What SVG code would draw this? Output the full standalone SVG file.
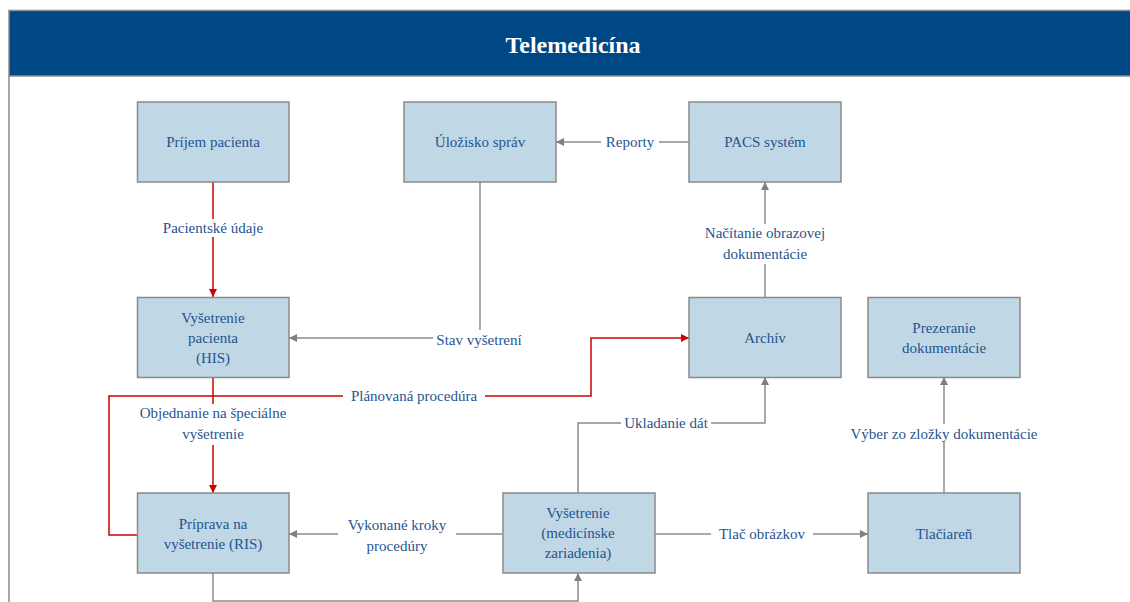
<svg xmlns="http://www.w3.org/2000/svg" width="1130" height="602" viewBox="0 0 1130 602">
  <style>
    .node rect { fill: #c0d7e5; stroke: #8a8a8a; stroke-width: 1.5; }
    .node text, .lbl { font-size: 15px; fill: #1f5591; text-anchor: middle; }
    .gray { fill: none; stroke: #8c8c8c; stroke-width: 1.5; }
    .red { fill: none; stroke: #cc0000; stroke-width: 1.5; }
    .bg { fill: #ffffff; }
  </style>
  <defs>
    <marker id="arrGray" viewBox="0 0 10 10" refX="10" refY="5" markerWidth="8" markerHeight="8" markerUnits="userSpaceOnUse" orient="auto">
      <path d="M0,0 L10,5 L0,10 z" fill="#808080"/>
    </marker>
    <marker id="arrRed" viewBox="0 0 10 10" refX="10" refY="5" markerWidth="8" markerHeight="8" markerUnits="userSpaceOnUse" orient="auto">
      <path d="M0,0 L10,5 L0,10 z" fill="#cc0000"/>
    </marker>
  </defs>

  <rect width="1130" height="602" fill="#ffffff"/>

  <g font-family="'Liberation Serif', 'Times New Roman', serif">
  <!-- frame and header band -->
  <g id="header">
    <rect x="9" y="10.5" width="1125" height="65.5" fill="#004785" stroke="#8a8a8a" stroke-width="1.5"/>
    <line x1="9" y1="76" x2="9" y2="602" stroke="#8a8a8a" stroke-width="1.5"/>
    <text x="573" y="53" font-size="24" font-weight="bold" fill="#ffffff" text-anchor="middle">Telemedicína</text>
  </g>

  <!-- connectors -->
  <g id="connectors">
    <!-- Príjem pacienta -> Vyšetrenie pacienta -->
    <path class="red" d="M213,182 V297" marker-end="url(#arrRed)"/>
    <rect class="bg" x="155" y="219" width="116" height="18"/>
    <text class="lbl" x="213" y="233">Pacientské údaje</text>

    <!-- PACS -> Úložisko správ -->
    <path class="gray" d="M689,142 H556" marker-end="url(#arrGray)"/>
    <rect class="bg" x="601" y="133" width="58" height="18"/>
    <text class="lbl" x="630" y="147">Reporty</text>

    <!-- Úložisko správ -> Vyšetrenie pacienta -->
    <path class="gray" d="M480,182 V338 H289" marker-end="url(#arrGray)"/>
    <rect class="bg" x="433" y="330" width="93" height="18"/>
    <text class="lbl" x="479" y="345">Stav vyšetrení</text>

    <!-- Archív -> PACS -->
    <path class="gray" d="M765,297 V182" marker-end="url(#arrGray)"/>
    <rect class="bg" x="697" y="224" width="136" height="40"/>
    <text class="lbl" x="765" y="238">Načítanie obrazovej</text>
    <text class="lbl" x="765" y="259">dokumentácie</text>

    <!-- Príprava -> Archív (planned procedure) -->
    <path class="red" d="M137,535 H109 V396 H591 V338 H689" marker-end="url(#arrRed)"/>

    <!-- Vyšetrenie pacienta -> Príprava -->
    <path class="red" d="M213,377 V493" marker-end="url(#arrRed)"/>
    <rect class="bg" x="133" y="404" width="160" height="41"/>
    <text class="lbl" x="213" y="418">Objednanie na špeciálne</text>
    <text class="lbl" x="213" y="439">vyšetrenie</text>

    <rect class="bg" x="343" y="387" width="142" height="18"/>
    <text class="lbl" x="414" y="401">Plánovaná procedúra</text>

    <!-- Vyšetrenie (zariadenia) -> Príprava -->
    <path class="gray" d="M502,534 H289" marker-end="url(#arrGray)"/>
    <rect class="bg" x="338" y="516" width="118" height="40"/>
    <text class="lbl" x="397" y="530">Vykonané kroky</text>
    <text class="lbl" x="397" y="551">procedúry</text>

    <!-- Príprava -> Vyšetrenie (zariadenia) -->
    <path class="gray" d="M213,573 V601 H578 V573" marker-end="url(#arrGray)"/>

    <!-- Vyšetrenie (zariadenia) -> Archív -->
    <path class="gray" d="M578,493 V423 H765 V377" marker-end="url(#arrGray)"/>
    <rect class="bg" x="621" y="415" width="90" height="18"/>
    <text class="lbl" x="666" y="428">Ukladanie dát</text>

    <!-- Vyšetrenie (zariadenia) -> Tlačiareň -->
    <path class="gray" d="M654,534 H868" marker-end="url(#arrGray)"/>
    <rect class="bg" x="711" y="525" width="102" height="18"/>
    <text class="lbl" x="762" y="539">Tlač obrázkov</text>

    <!-- Tlačiareň -> Prezeranie dokumentácie -->
    <path class="gray" d="M944,493 V377" marker-end="url(#arrGray)"/>
    <rect class="bg" x="843" y="424" width="202" height="18"/>
    <text class="lbl" x="944" y="439">Výber zo zložky dokumentácie</text>
  </g>

  <!-- nodes -->
  <g id="prijem" class="node">
    <rect x="137.5" y="102" width="151.5" height="80"/>
    <text x="213" y="147">Príjem pacienta</text>
  </g>
  <g id="ulozisko" class="node">
    <rect x="404" y="102" width="152" height="80"/>
    <text x="480" y="147">Úložisko správ</text>
  </g>
  <g id="pacs" class="node">
    <rect x="689" y="102" width="152" height="80"/>
    <text x="765" y="147">PACS systém</text>
  </g>
  <g id="his" class="node">
    <rect x="137.5" y="297.5" width="151.5" height="80"/>
    <text x="213" y="323">Vyšetrenie</text>
    <text x="213" y="343">pacienta</text>
    <text x="213" y="363">(HIS)</text>
  </g>
  <g id="archiv" class="node">
    <rect x="689" y="297.5" width="152" height="80"/>
    <text x="765" y="343">Archív</text>
  </g>
  <g id="prezeranie" class="node">
    <rect x="868" y="297.5" width="152" height="80"/>
    <text x="944" y="333">Prezeranie</text>
    <text x="944" y="353">dokumentácie</text>
  </g>
  <g id="priprava" class="node">
    <rect x="137.5" y="493" width="151.5" height="80"/>
    <text x="213" y="529">Príprava na</text>
    <text x="213" y="549">vyšetrenie (RIS)</text>
  </g>
  <g id="vysetrenie-zariadenia" class="node">
    <rect x="503" y="493" width="152" height="80"/>
    <text x="578" y="518">Vyšetrenie</text>
    <text x="578" y="538">(medicínske</text>
    <text x="578" y="558">zariadenia)</text>
  </g>
  <g id="tlaciaren" class="node">
    <rect x="868" y="493" width="152" height="80"/>
    <text x="944" y="539">Tlačiareň</text>
  </g>
  </g>
</svg>
